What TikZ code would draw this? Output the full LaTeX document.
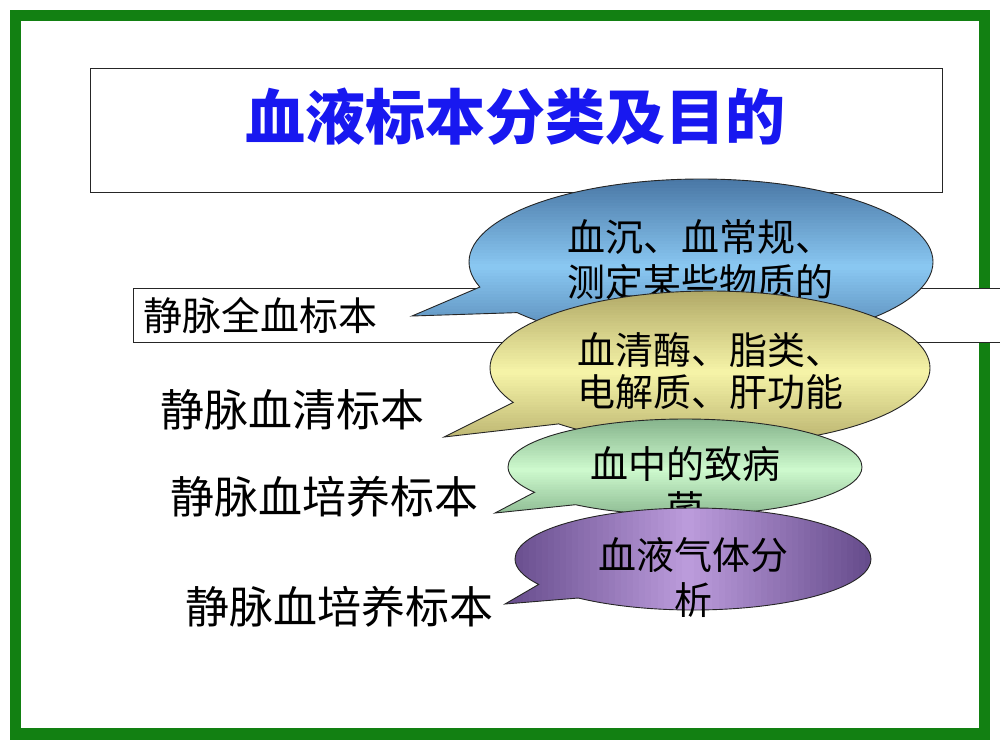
\documentclass[tikz,border=0pt]{standalone}
\usepackage{fontspec}
\newfontfamily\cjk{Noto Sans CJK SC}
\usetikzlibrary{shapes.callouts,calc}
\definecolor{framegreen}{HTML}{128012}
\definecolor{titleblue}{HTML}{1818F0}
\definecolor{blueedge}{HTML}{4A78A6}
\definecolor{bluemid}{HTML}{8AC8F2}
\definecolor{yellowedge}{HTML}{B2AA68}
\definecolor{yellowmid}{HTML}{F6F4A8}
\definecolor{greenedge}{HTML}{86B48C}
\definecolor{greenmid}{HTML}{CEFACE}
\definecolor{purpleedge}{HTML}{664C8C}
\definecolor{purplemid}{HTML}{BC9CDC}
\tikzset{
  bubble/.style={ellipse callout,draw=black!85,line width=0.9pt,callout pointer arc=20,inner sep=0pt},
  % gradient: edge colour at both sides, light in the middle
  vshade/.style 2 args={path picture={
    \path (path picture bounding box.south west) coordinate (sw) (path picture bounding box.north east) coordinate (ne);
    \foreach \i in {0,...,59}{
      \pgfmathsetmacro\m{100*(1-abs(\i/59*2-1))}
      \fill[#2!\m!#1] ($(sw)!\i/60!(sw|-ne)$) rectangle ($(ne|-sw)!{(\i+1.5)/60}!(ne)$);
    }}},
  hshade/.style 2 args={path picture={
    \path (path picture bounding box.south west) coordinate (sw) (path picture bounding box.north east) coordinate (ne);
    \foreach \i in {0,...,59}{
      \pgfmathsetmacro\m{100*(1-abs(\i/59*2-1))}
      \fill[#2!\m!#1] ($(sw)!\i/60!(ne|-sw)$) rectangle ($(sw|-ne)!{(\i+1.5)/60}!(ne)$);
    }}},
  bubbletext/.style={font=\cjk\fontsize{38}{45}\selectfont,align=center,inner sep=0pt},
  sample/.style={font=\cjk\fontsize{44}{50}\selectfont,inner sep=0pt}
}
\begin{document}
\begin{tikzpicture}[x=1pt,y=1pt]
\useasboundingbox (0,0) rectangle (1000,-750);
\fill[white] (0,0) rectangle (1000,-750);
\draw[framegreen,line width=11.5pt] (15.5,-15.5) rectangle (984.5,-734);
% title
\node[draw=black!85,line width=1pt,minimum width=852pt,minimum height=124pt] (titlebox) at (516,-130) {};
\node[font=\cjk\bfseries\fontsize{60}{66}\selectfont,text=titleblue,inner sep=0pt] (title) at (515,-117) {血液标本分类及目的};
% first sample in its box
\node[draw=black!85,line width=1pt,fill=white,anchor=west,minimum height=54pt,text width=870pt,inner xsep=10pt,align=left,
      font=\cjk\fontsize{39}{45}\selectfont] (whole) at (133,-315) {静脉全血标本};
\coordinate (p1) at (412,-316);
\coordinate (p2) at (444,-437);
\coordinate (p3) at (495,-513);
\coordinate (p4) at (505,-604);
% callouts
\node[bubble,vshade={blueedge}{bluemid},
      minimum width=464pt,minimum height=166pt,callout absolute pointer=(p1)] (c1) at (701,-262) {};
\node[bubbletext] (t1) at (700,-260) {血沉、血常规、\\测定某些物质的};
\node[bubble,vshade={yellowedge}{yellowmid},
      minimum width=440pt,minimum height=154pt,callout absolute pointer=(p2)] (c2) at (710,-368) {};
\node[bubbletext,font=\cjk\fontsize{38}{42}\selectfont] (t2) at (710,-371) {血清酶、脂类、\\电解质、肝功能};
\node[bubble,vshade={greenedge}{greenmid},
      minimum width=354pt,minimum height=96pt,callout absolute pointer=(p3)] (c3) at (685,-467) {};
\node[bubbletext] (t3) at (685,-486) {血中的致病\\菌};
\node[bubble,hshade={purpleedge}{purplemid},
      minimum width=356pt,minimum height=102pt,callout absolute pointer=(p4)] (c4) at (693,-559) {};
\node[bubbletext] (t4) at (693,-577) {血液气体分\\析};
% other samples
\node[sample] (serum) at (292,-410) {静脉血清标本};
\node[sample] (culture) at (324,-497) {静脉血培养标本};
\node[sample] (culture2) at (339,-607) {静脉血培养标本};
\end{tikzpicture}
\end{document}
